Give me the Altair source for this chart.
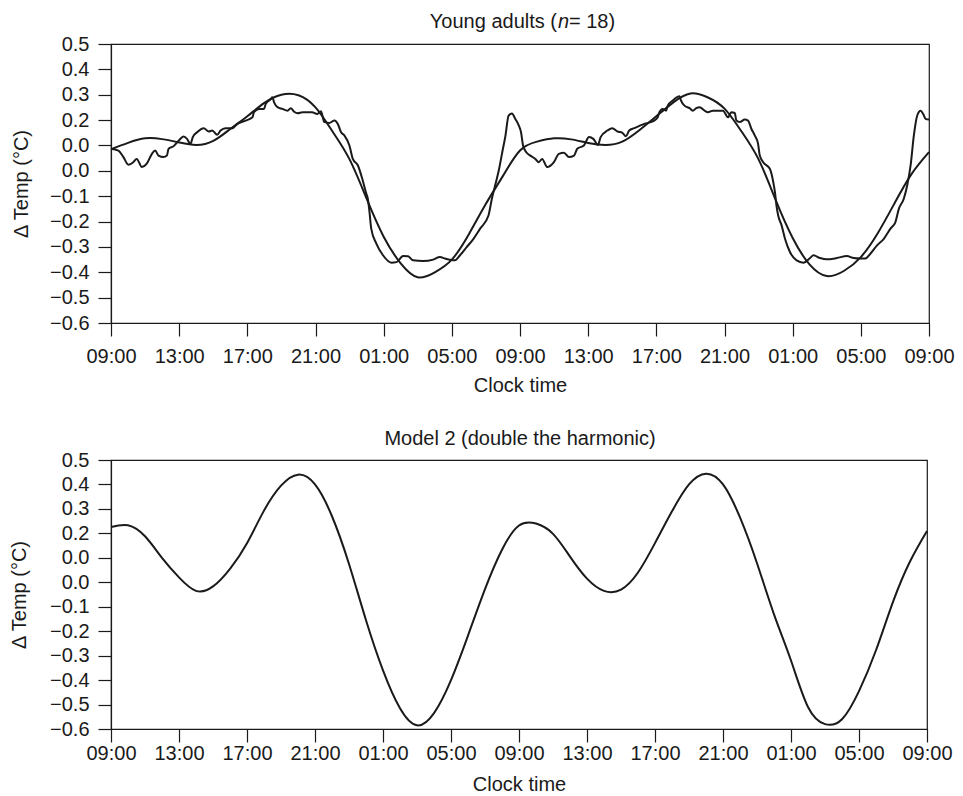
import altair as alt
import pandas as pd

FONT = "Liberation Sans"
INK = "#1a1a1a"

# ---- axis ticks / labels ----
X_TICKS = [0, 4, 8, 12, 16, 20, 24, 28, 32, 36, 40, 44, 48]
X_LABELS = ["09:00", "13:00", "17:00", "21:00", "01:00", "05:00", "09:00",
            "13:00", "17:00", "21:00", "01:00", "05:00", "09:00"]
Y_TICKS = [0.5, 0.4, 0.3, 0.2, 0.1, 0.0, -0.1, -0.2, -0.3, -0.4, -0.5, -0.6]
Y_LABELS = ["0.5", "0.4", "0.3", "0.2", "0.0", "0.0", "\u22120.1", "\u22120.2",
            "\u22120.3", "\u22120.4", "\u22120.5", "\u22120.6"]

TITLE_TOP = ["Young adults (", "n", "= 18)"]
TITLE_BOTTOM = ["Model 2 (double the harmonic)"]
X_TITLE = "Clock time"
Y_TITLE = "\u0394 Temp (\u00b0C)"

# ---- top panel: fitted curve (hourly, hours after 09:00) ----
FIT_HOURS = list(range(49))
FIT_TOP = [0.085, 0.11, 0.128, 0.125, 0.112, 0.102, 0.118, 0.165, 0.215, 0.268,
           0.300, 0.298, 0.25, 0.155, 0.045, -0.11, -0.26, -0.365, -0.42, -0.40,
           -0.35, -0.25, -0.13, -0.02,
           0.08,
           0.115, 0.128, 0.124, 0.11, 0.102, 0.115, 0.16, 0.215, 0.27, 0.305,
           0.29, 0.245, 0.155, 0.045, -0.115, -0.265, -0.37, -0.415, -0.395,
           -0.34, -0.245, -0.125, -0.01, 0.074]

# ---- top panel: observed mean (day 1 and day 2) ----
OBS_HOURS_DAY1 = [0.0, 0.43, 0.73, 1.02, 1.31, 1.51, 1.81, 2.10, 2.40, 2.59,
                  2.79, 3.08, 3.28, 3.38, 3.67, 4.07, 4.26, 4.46, 4.66, 4.80,
                  5.05, 5.44, 5.74, 5.94, 6.23, 6.43, 6.72, 7.12, 7.41, 7.90,
                  8.30, 8.39, 8.69, 8.98, 9.08, 9.38, 9.47, 9.57, 9.77, 10.06,
                  10.36, 10.55, 10.75, 10.95, 11.24, 11.8, 12.1, 12.32, 12.52, 12.81,
                  13.11, 13.31, 13.50, 13.70, 13.99, 14.19, 14.49, 14.78, 14.98, 15.07,
                  15.17, 15.27, 15.57, 15.96, 16.45, 16.75, 17.14, 17.43, 17.73, 18.32,
                  18.91, 19.30, 19.60, 20.18, 20.48, 20.87, 21.27, 21.66, 22.15, 22.35,
                  22.54, 22.75, 22.95, 23.15, 23.33, 23.53, 23.72, 23.92]
OBS_TEMP_DAY1 = [0.087, 0.080, 0.054, 0.024, 0.034, 0.047, 0.015, 0.028, 0.067, 0.080,
                 0.060, 0.054, 0.060, 0.087, 0.097, 0.126, 0.135, 0.126, 0.106, 0.133,
                 0.152, 0.168, 0.155, 0.159, 0.142, 0.159, 0.168, 0.168, 0.185, 0.198,
                 0.211, 0.231, 0.244, 0.244, 0.264, 0.283, 0.290, 0.270, 0.251, 0.244,
                 0.237, 0.247, 0.233, 0.227, 0.231, 0.231, 0.224, 0.235, 0.192, 0.189,
                 0.198, 0.185, 0.152, 0.139, 0.100, 0.047, 0.021, -0.04, -0.09, -0.110,
                 -0.163, -0.228, -0.287, -0.333, -0.362, -0.360, -0.336, -0.337, -0.353, -0.356,
                 -0.350, -0.340, -0.346, -0.353, -0.333, -0.301, -0.268, -0.228, -0.176, -0.110,
                 -0.058, 0.0, 0.07, 0.14, 0.218, 0.226, 0.205, 0.180]
OBS_HOURS_DAY2 = [24.06, 24.18, 24.37, 24.61, 24.90, 25.10, 25.30, 25.59, 25.99, 26.28,
                  26.58, 26.87, 27.17, 27.36, 27.75, 28.05, 28.30, 28.58, 28.73, 29.13,
                  29.42, 29.72, 30.01, 30.21, 30.41, 30.70, 31.29, 31.88, 32.08, 32.18,
                  32.37, 32.57, 32.67, 32.96, 33.36, 33.45, 33.65, 33.95, 34.14, 34.34,
                  34.54, 34.83, 35.03, 35.32, 35.91, 36.21, 36.40, 36.60, 36.70, 36.89,
                  37.19, 37.38, 37.58, 37.78, 37.97, 38.07, 38.27, 38.66, 38.86, 38.96,
                  39.05, 39.15, 39.35, 39.55, 39.84, 40.23, 40.63, 41.02, 41.22, 41.61,
                  42.0, 42.59, 43.18, 43.58, 43.97, 44.26, 44.56, 44.95, 45.35, 45.74,
                  46.03, 46.23, 46.52, 46.72, 46.92, 47.11, 47.31, 47.51, 47.66, 47.80,
                  48.0]
OBS_TEMP_DAY2 = [0.152, 0.100, 0.073, 0.060, 0.047, 0.034, 0.047, 0.015, 0.034, 0.067,
                 0.071, 0.054, 0.060, 0.087, 0.100, 0.133, 0.126, 0.102, 0.133, 0.159,
                 0.168, 0.155, 0.150, 0.136, 0.159, 0.168, 0.185, 0.198, 0.211, 0.231,
                 0.244, 0.237, 0.257, 0.277, 0.294, 0.277, 0.257, 0.247, 0.237, 0.247,
                 0.251, 0.237, 0.231, 0.237, 0.237, 0.211, 0.231, 0.228, 0.198, 0.192,
                 0.202, 0.198, 0.165, 0.139, 0.106, 0.060, 0.034, 0.008, -0.044, -0.084,
                 -0.137, -0.176, -0.215, -0.268, -0.320, -0.353, -0.362, -0.344, -0.333, -0.344,
                 -0.349, -0.344, -0.336, -0.344, -0.346, -0.346, -0.327, -0.294, -0.268, -0.228,
                 -0.202, -0.150, -0.110, -0.058, 0.021, 0.139, 0.218, 0.237, 0.224, 0.205,
                 0.202]

# ---- bottom panel: model 2 curve (hourly) ----
MODEL_HOURS = list(range(49))
MODEL2 = [0.226, 0.233, 0.188, 0.10, 0.02, -0.035, -0.017, 0.055, 0.16, 0.293,
          0.395, 0.44, 0.40, 0.27, 0.075, -0.155, -0.36, -0.515, -0.585, -0.535,
          -0.40, -0.218, -0.028, 0.133,
          0.232,
          0.24, 0.198, 0.105, 0.015, -0.035, -0.03, 0.04, 0.16, 0.29, 0.40,
          0.444, 0.40, 0.265, 0.078, -0.131, -0.32, -0.51, -0.58, -0.56, -0.445,
          -0.278, -0.08, 0.085, 0.21]

df_fit = pd.DataFrame({"h": FIT_HOURS, "v": FIT_TOP})
df_obs = pd.DataFrame({"h": OBS_HOURS_DAY1 + OBS_HOURS_DAY2,
                       "v": OBS_TEMP_DAY1 + OBS_TEMP_DAY2})
df_model = pd.DataFrame({"h": MODEL_HOURS, "v": MODEL2})


def label_expr(values, labels):
    parts = [f"abs(datum.value - ({v})) < 0.001 ? '{l}'" for v, l in zip(values, labels)]
    return " : ".join(parts) + " : ''"


X_EXPR = label_expr(X_TICKS, X_LABELS)
Y_EXPR = label_expr(Y_TICKS, Y_LABELS)


def x_enc(label_pad, title_pad):
    return alt.X("h:Q", scale=alt.Scale(domain=[0, 48], nice=False, zero=False),
                 axis=alt.Axis(values=X_TICKS, labelExpr=X_EXPR, title=X_TITLE,
                               labelFlush=False, labelOverlap=False,
                               labelPadding=label_pad, titlePadding=title_pad))


def y_enc(title_pad):
    return alt.Y("v:Q", scale=alt.Scale(domain=[-0.6, 0.5], nice=False, zero=False),
                 axis=alt.Axis(values=Y_TICKS, labelExpr=Y_EXPR, title=Y_TITLE,
                               labelOverlap=False, labelPadding=9,
                               titlePadding=title_pad))


def title_part(text, xpos, ypos, align, style):
    return alt.Chart(pd.DataFrame({"t": [text]})).mark_text(
        align=align, baseline="alphabetic", font=FONT, fontSize=20,
        fontStyle=style, color=INK).encode(
        text="t:N", x=alt.value(xpos), y=alt.value(ypos))


fit = alt.Chart(df_fit).mark_line(interpolate="natural", color=INK, strokeWidth=2).encode(
    x=x_enc(10, 9), y=y_enc(18))
obs = alt.Chart(df_obs).mark_line(interpolate="monotone", color=INK, strokeWidth=2).encode(
    x=x_enc(10, 9), y=y_enc(18))

t1 = title_part(TITLE_TOP[0], 446, -16, "right", "normal")
t2 = title_part(TITLE_TOP[1], 447, -16, "left", "italic")
t3 = title_part(TITLE_TOP[2], 458, -16, "left", "normal")

top = alt.layer(fit, obs, t1, t2, t3).properties(width=818, height=279)

model = alt.Chart(df_model).mark_line(interpolate="natural", color=INK, strokeWidth=2).encode(
    x=x_enc(1, 11), y=y_enc(20))
tb = title_part(TITLE_BOTTOM[0], 409, -15, "center", "normal")

bottom = alt.layer(model, tb).properties(width=816, height=269)

chart = alt.concat(top, bottom, columns=1, spacing=32).properties(
    padding={"left": 0, "top": 3, "right": 0, "bottom": 0},
    background="white",
).configure_view(stroke=INK, strokeWidth=1.2).configure_axis(
    domainColor=INK, domainWidth=1.2, tickColor=INK, tickWidth=1.2, tickSize=13,
    labelFont=FONT, labelFontSize=20, labelColor=INK,
    titleFont=FONT, titleFontSize=20, titleFontWeight="normal", titleColor=INK,
    grid=False)

chart.save("out.html", embed_options={"renderer": "svg", "actions": False})
